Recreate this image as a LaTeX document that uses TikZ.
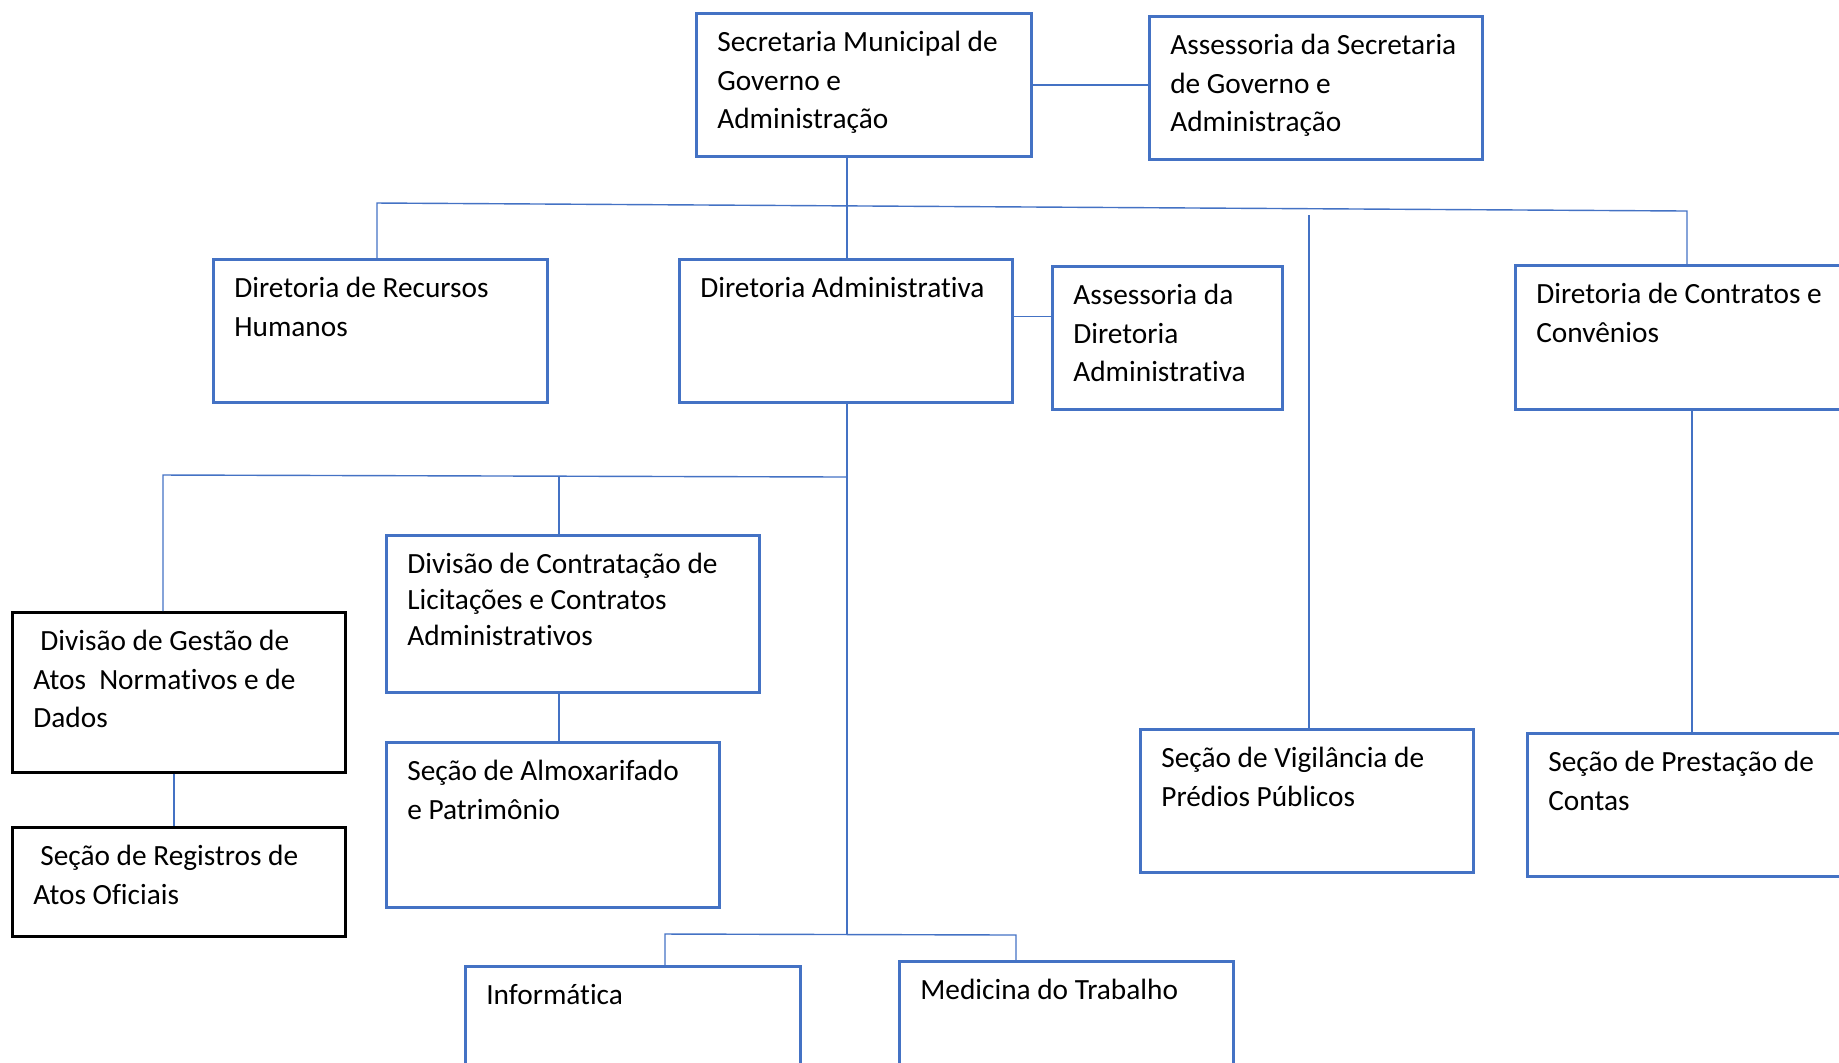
\documentclass[tikz,border=0pt]{standalone}
\usepackage{fontspec}
\setmainfont{Carlito}[Ligatures=NoCommon]
\usepackage{tikz}
\usetikzlibrary{positioning, calc}

\definecolor{orgblue}{HTML}{4472C4}
\newlength{\pxu}
\setlength{\pxu}{0.01cm}
% text block, top left in a box of #1 x #2 px
\newcommand{\orgtext}[3]{\parbox[t][\dimexpr#2\pxu-22\pxu\relax][t]{\dimexpr#1\pxu-42\pxu\relax}{\strut#3}}

\tikzset{
  unit/.style={draw=orgblue, line width=0.75pt, anchor=north west,
    inner xsep=0.21cm, inner ysep=0.11cm, font=\fontsize{8.34}{11}\selectfont},
  unitblack/.style={unit, draw=black},
  link/.style={draw=orgblue, line width=0.4pt}
}

\begin{document}
\begin{tikzpicture}[x=0.01cm, y=-0.01cm]
  % Page frame
  \useasboundingbox (0,0) rectangle (1839,1062);
  \clip (0,0) rectangle (1839,1062);

  % Top level
  \node[unit] (sec) at (695,12) {\orgtext{335}{143}{Secretaria Municipal de\\Governo e\\Administração}};
  \node[unit] (asssec) at (1148,15) {\orgtext{333}{143}{Assessoria da Secretaria\\de Governo e\\Administração}};

  % Directorates
  \node[unit] (rh) at (212,258) {\orgtext{334}{143}{Diretoria de Recursos\\Humanos}};
  \node[unit] (adm) at (678,258) {\orgtext{333}{143}{Diretoria Administrativa}};
  \node[unit] (assadm) at (1051,265) {\orgtext{230}{143}{Assessoria da\\Diretoria\\Administrativa}};
  \node[unit] (contr) at (1514,264) {\orgtext{334}{144}{Diretoria de Contratos e\\Convênios}};

  % Sections on the right
  \node[unit] (vig) at (1139,728) {\orgtext{333}{143}{Seção de Vigilância de\\Prédios Públicos}};
  \node[unit] (prest) at (1526,732) {\orgtext{334}{143}{Seção de Prestação de\\Contas}};

  % Divisions under Diretoria Administrativa
  \node[unitblack] (gestao) at (11,611) {\orgtext{333}{160}{\hspace{7\pxu}Divisão de Gestão de\\Atos~~Normativos e de\\Dados}};
  \node[unitblack] (reg) at (11,826) {\orgtext{333}{109}{\hspace{7\pxu}Seção de Registros de\\Atos Oficiais}};
  \node[unit] (licit) at (385,534) {\orgtext{373}{157}{\baselineskip=35.8\pxu Divisão de Contratação de\\Licitações e Contratos\\Administrativos}};
  \node[unit] (almox) at (385,741) {\orgtext{333}{165}{Seção de Almoxarifado\\e Patrimônio}};
  \node[unit] (info) at (464,965) {\orgtext{335}{150}{Informática}};
  \node[unit] (med) at (898,960) {\orgtext{334}{150}{Medicina do Trabalho}};

  % Advisors
  \draw[link] (sec.east) -- (sec.east -| asssec.west);
  \coordinate (admside) at ($(adm.north east)!0.4!(adm.south east)$);
  \draw[link] (admside) -- (admside -| assadm.west);

  % Top bus
  \coordinate (secdrop) at (847,0);
  \coordinate (busL) at (377,203);
  \coordinate (busR) at (1687,211);
  \draw[link] (secdrop |- sec.south) -- (secdrop |- adm.north);
  \draw[link] (busL |- rh.north) -- (busL) -- (busR) -- (busR |- contr.north);
  \coordinate (vigtop) at (1309,215);
  \draw[link] (vigtop) -- (vigtop |- vig.north);
  \coordinate (contrdrop) at (1692,0);
  \draw[link] (contrdrop |- contr.south) -- (contrdrop |- prest.north);

  % Diretoria Administrativa tree
  \coordinate (bus2L) at (163,475);
  \coordinate (bus2R) at (847,477);
  \coordinate (bus3M) at (847,934);
  \draw[link] (secdrop |- adm.south) -- (bus3M);
  \draw[link] (bus2L |- gestao.north) -- (bus2L) -- (bus2R);
  \coordinate (licitdrop) at (559,476);
  \draw[link] (licitdrop) -- (licitdrop |- licit.north);
  \draw[link] (licitdrop |- licit.south) -- (licitdrop |- almox.north);
  \coordinate (gestdrop) at (174,0);
  \draw[link] (gestdrop |- gestao.south) -- (gestdrop |- reg.north);

  % Bottom bus
  \coordinate (bus3L) at (665,934);
  \coordinate (bus3R) at (1016,935);
  \draw[link] (bus3L |- info.north) -- (bus3L) -- (bus3R) -- (bus3R |- med.north);
\end{tikzpicture}
\end{document}
